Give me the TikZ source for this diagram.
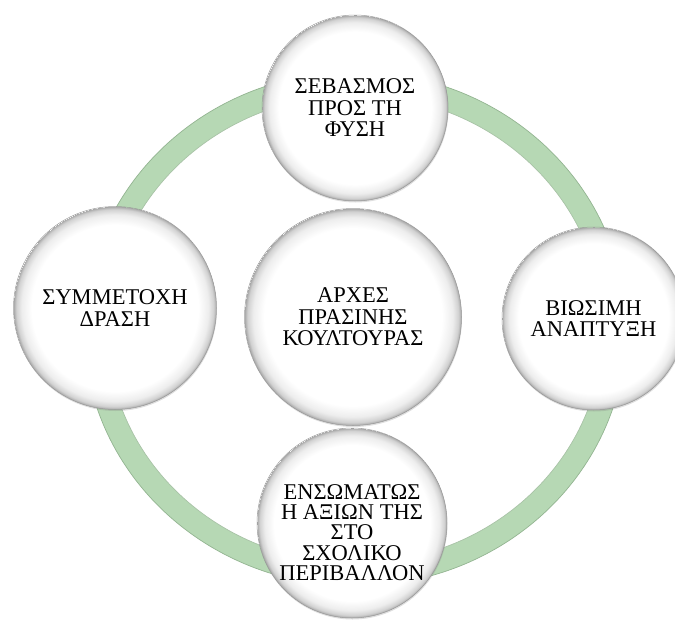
\documentclass[tikz,border=0pt]{standalone}
\usepackage{fontspec}
\setmainfont{Liberation Serif}
\usetikzlibrary{shadows}
\definecolor{ringfill}{HTML}{B6D8B4}
\definecolor{ringedge}{HTML}{93B491}
\pgfdeclareradialshading{bevel}{\pgfpoint{0bp}{0bp}}{color(0bp)=(white); color(20.5bp)=(white); color(23bp)=(black!7); color(24.3bp)=(black!18); color(25bp)=(black!35)}
\tikzset{
  bubble/.style={circle, shading=bevel, draw=black!40, line width=0.5,
    inner sep=0pt, align=center, text=black,
    font=\fontsize{22.5}{21.5}\selectfont,
    drop shadow={shadow xshift=0.5pt, shadow yshift=-1.5pt, opacity=0.25}},
  bubbletext/.style={align=center, inner sep=0pt, text=black,
    font=\fontsize{22.5}{20.3}\selectfont},
}
\begin{document}
\begin{tikzpicture}[x=1pt,y=-1pt]
\useasboundingbox (0,0) rectangle (675,624);
% ring
\draw[ringfill, line width=23] (355,329) ellipse [x radius=259.5, y radius=245.5];
\draw[ringedge, line width=0.7] (355,329) ellipse [x radius=271, y radius=257];
\draw[ringedge!80, line width=0.7] (355,329) ellipse [x radius=248, y radius=234];
% circles
\node[bubble, minimum size=217] (center) at (353,317) {ΑΡΧΕΣ\\ΠΡΑΣΙΝΗΣ\\ΚΟΥΛΤΟΥΡΑΣ};
\node[bubble, minimum size=186] (top) at (355,108) {ΣΕΒΑΣΜΟΣ\\ΠΡΟΣ ΤΗ\\ΦΥΣΗ};
\node[bubble, minimum size=203] (left) at (115,308) {ΣΥΜΜΕΤΟΧΗ\\ΔΡΑΣΗ};
\node[bubble, minimum size=183] (right) at (593.5,318.5) {ΒΙΩΣΙΜΗ\\ΑΝΑΠΤΥΞΗ};
\node[bubble, minimum size=190] (bottom) at (352,523) {};
\node[bubbletext] (bottomtext) at (352,532.5) {ΕΝΣΩΜΑΤΩΣ\\Η ΑΞΙΩΝ ΤΗΣ\\ΣΤΟ\\ΣΧΟΛΙΚΟ\\ΠΕΡΙΒΑΛΛΟΝ};
\end{tikzpicture}
\end{document}
